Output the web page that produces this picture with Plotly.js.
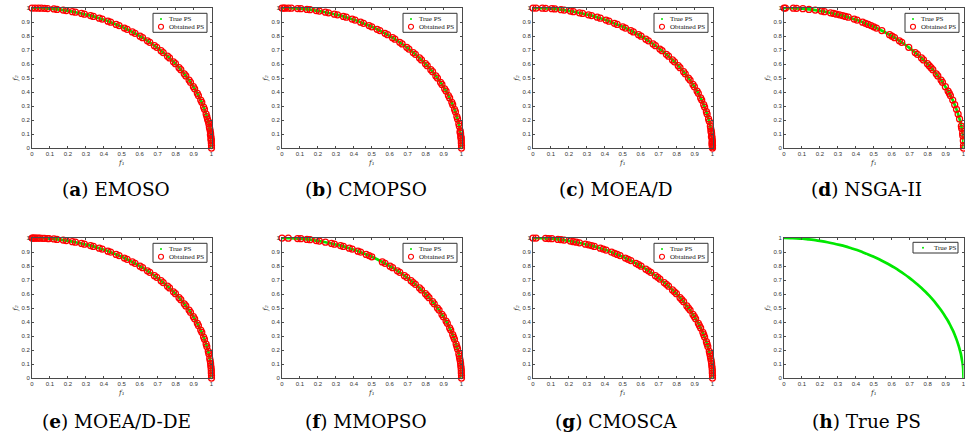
<!DOCTYPE html>
<html><head><meta charset="utf-8">
<script src="https://cdn.plot.ly/plotly-3.0.1.min.js"></script>
<style>html,body{margin:0;padding:0;background:#fff;} #chart{width:965px;height:441px;}</style>
</head><body><div id="chart"></div>
<script>
// ---------- data ----------
const trueF1 = [0.000,0.035,0.070,0.105,0.139,0.174,0.208,0.242,0.276,0.309,0.342,0.375,0.407,0.438,0.469,0.500,0.530,0.559,0.588,0.616,0.643,0.669,0.695,0.719,0.743,0.766,0.788,0.809,0.829,0.848,0.866,0.883,0.899,0.914,0.927,0.940,0.951,0.961,0.970,0.978,0.985,0.990,0.995,0.998,0.999,1.000];
const trueF2 = [1.000,0.999,0.998,0.995,0.990,0.985,0.978,0.970,0.961,0.951,0.940,0.927,0.914,0.899,0.883,0.866,0.848,0.829,0.809,0.788,0.766,0.743,0.719,0.695,0.669,0.643,0.616,0.588,0.559,0.530,0.500,0.469,0.438,0.407,0.375,0.342,0.309,0.276,0.242,0.208,0.174,0.139,0.105,0.070,0.035,0.000];

const emosoF1 = [0.000,0.017,0.035,0.052,0.070,0.087,0.122,0.139,0.174,0.191,0.225,0.242,0.276,0.292,0.326,0.342,0.375,0.391,0.423,0.438,0.469,0.485,0.515,0.530,0.559,0.574,0.602,0.616,0.643,0.656,0.682,0.695,0.719,0.731,0.755,0.766,0.788,0.799,0.819,0.829,0.848,0.857,0.875,0.883,0.899,0.906,0.921,0.927,0.940,0.946,0.956,0.961,0.970,0.974,0.982,0.985,0.990,0.993,0.995,0.996,0.998,0.999,0.999,1.000,1.000,0.988,0.994,0.997,0.978];
const emosoF2 = [1.000,1.000,0.999,0.999,0.998,0.996,0.993,0.990,0.985,0.982,0.974,0.970,0.961,0.956,0.946,0.940,0.927,0.921,0.906,0.899,0.883,0.875,0.857,0.848,0.829,0.819,0.799,0.788,0.766,0.755,0.731,0.719,0.695,0.682,0.656,0.643,0.616,0.602,0.574,0.559,0.530,0.515,0.485,0.469,0.438,0.423,0.391,0.375,0.342,0.326,0.292,0.276,0.242,0.225,0.191,0.174,0.139,0.122,0.105,0.087,0.070,0.052,0.035,0.017,0.000,0.150,0.095,0.060,0.205];

const cmopsoF1 = [0.000,0.017,0.035,0.052,0.087,0.105,0.139,0.156,0.191,0.208,0.242,0.259,0.292,0.309,0.342,0.358,0.391,0.407,0.438,0.454,0.485,0.500,0.530,0.545,0.574,0.588,0.616,0.629,0.656,0.669,0.695,0.707,0.731,0.743,0.766,0.777,0.799,0.809,0.829,0.839,0.857,0.866,0.883,0.891,0.906,0.914,0.927,0.934,0.946,0.951,0.961,0.966,0.974,0.978,0.985,0.988,0.993,0.995,0.996,0.998,0.999,0.999,1.000,1.000,0.010,0.992,0.997];
const cmopsoF2 = [1.000,1.000,0.999,0.999,0.996,0.995,0.990,0.988,0.982,0.978,0.970,0.966,0.956,0.951,0.940,0.934,0.921,0.914,0.899,0.891,0.875,0.866,0.848,0.839,0.819,0.809,0.788,0.777,0.755,0.743,0.719,0.707,0.682,0.669,0.643,0.629,0.602,0.588,0.559,0.545,0.515,0.500,0.469,0.454,0.423,0.407,0.375,0.358,0.326,0.309,0.276,0.259,0.225,0.208,0.174,0.156,0.122,0.105,0.087,0.070,0.052,0.035,0.017,0.000,1.000,0.110,0.075];

const moeadF1 = [0.000,0.017,0.052,0.070,0.105,0.122,0.156,0.174,0.208,0.225,0.259,0.276,0.309,0.326,0.358,0.375,0.407,0.423,0.454,0.469,0.500,0.515,0.545,0.559,0.588,0.602,0.629,0.643,0.669,0.682,0.707,0.719,0.743,0.755,0.777,0.788,0.809,0.819,0.839,0.848,0.866,0.875,0.891,0.899,0.914,0.921,0.934,0.940,0.951,0.956,0.966,0.970,0.978,0.982,0.988,0.990,0.993,0.995,0.996,0.998,0.999,0.999,1.000,1.000,0.997,0.998,0.994,0.992,0.999];
const moeadF2 = [1.000,1.000,0.999,0.998,0.995,0.993,0.988,0.985,0.978,0.974,0.966,0.961,0.951,0.946,0.934,0.927,0.914,0.906,0.891,0.883,0.866,0.857,0.839,0.829,0.809,0.799,0.777,0.766,0.743,0.731,0.707,0.695,0.669,0.656,0.629,0.616,0.588,0.574,0.545,0.530,0.500,0.485,0.454,0.438,0.407,0.391,0.358,0.342,0.309,0.292,0.259,0.242,0.208,0.191,0.156,0.139,0.122,0.105,0.087,0.070,0.052,0.035,0.017,0.000,0.026,0.044,0.080,0.115,0.009];

const nsga2F1 = [0.000,0.008,0.052,0.070,0.105,0.139,0.174,0.208,0.225,0.259,0.276,0.292,0.309,0.326,0.342,0.358,0.391,0.407,0.438,0.454,0.469,0.485,0.500,0.515,0.545,0.588,0.602,0.616,0.643,0.656,0.695,0.731,0.743,0.766,0.777,0.799,0.809,0.819,0.829,0.848,0.857,0.875,0.883,0.899,0.914,0.921,0.927,0.940,0.951,0.961,0.970,0.978,0.988,0.990,0.995,0.996,0.999,1.000,1.000];
const nsga2F2 = [1.000,1.000,0.999,0.998,0.995,0.990,0.985,0.978,0.974,0.966,0.961,0.956,0.951,0.946,0.940,0.934,0.921,0.914,0.899,0.891,0.883,0.875,0.866,0.857,0.839,0.809,0.799,0.788,0.766,0.755,0.719,0.682,0.669,0.643,0.629,0.602,0.588,0.574,0.559,0.530,0.515,0.485,0.469,0.438,0.407,0.391,0.375,0.342,0.309,0.276,0.242,0.208,0.156,0.139,0.105,0.087,0.052,0.017,0.000];

const moeaddeF1 = [0.000,0.017,0.035,0.070,0.087,0.122,0.139,0.174,0.191,0.225,0.242,0.276,0.292,0.326,0.342,0.375,0.391,0.423,0.438,0.469,0.485,0.515,0.530,0.559,0.574,0.602,0.616,0.643,0.656,0.682,0.695,0.719,0.731,0.755,0.766,0.788,0.799,0.819,0.829,0.848,0.857,0.875,0.883,0.899,0.906,0.921,0.927,0.940,0.946,0.956,0.961,0.970,0.974,0.982,0.985,0.990,0.993,0.995,0.996,0.998,0.999,0.999,1.000,1.000,0.005,0.010,0.025,0.045,0.060,0.095];
const moeaddeF2 = [1.000,1.000,0.999,0.998,0.996,0.993,0.990,0.985,0.982,0.974,0.970,0.961,0.956,0.946,0.940,0.927,0.921,0.906,0.899,0.883,0.875,0.857,0.848,0.829,0.819,0.799,0.788,0.766,0.755,0.731,0.719,0.695,0.682,0.656,0.643,0.616,0.602,0.574,0.559,0.530,0.515,0.485,0.469,0.438,0.423,0.391,0.375,0.342,0.326,0.292,0.276,0.242,0.225,0.191,0.174,0.139,0.122,0.105,0.087,0.070,0.052,0.035,0.017,0.000,1.000,1.000,1.000,0.999,0.998,0.996];

const mmopsoF1 = [0.000,0.035,0.087,0.105,0.139,0.156,0.191,0.208,0.242,0.276,0.292,0.326,0.342,0.375,0.391,0.423,0.438,0.469,0.485,0.500,0.559,0.574,0.602,0.616,0.643,0.656,0.682,0.695,0.719,0.731,0.743,0.766,0.777,0.799,0.809,0.819,0.839,0.848,0.866,0.875,0.891,0.899,0.914,0.921,0.934,0.940,0.951,0.956,0.961,0.970,0.974,0.978,0.985,0.988,0.990,0.993,0.995,0.996,0.998,0.999,0.999,1.000,1.000];
const mmopsoF2 = [1.000,0.999,0.996,0.995,0.990,0.988,0.982,0.978,0.970,0.961,0.956,0.946,0.940,0.927,0.921,0.906,0.899,0.883,0.875,0.866,0.829,0.819,0.799,0.788,0.766,0.755,0.731,0.719,0.695,0.682,0.669,0.643,0.629,0.602,0.588,0.574,0.545,0.530,0.500,0.485,0.454,0.438,0.407,0.391,0.358,0.342,0.309,0.292,0.276,0.242,0.225,0.208,0.174,0.156,0.139,0.122,0.105,0.087,0.070,0.052,0.035,0.017,0.000];

const cmoscaF1 = [0.000,0.017,0.070,0.087,0.105,0.139,0.156,0.174,0.208,0.225,0.242,0.259,0.292,0.309,0.326,0.342,0.375,0.391,0.407,0.438,0.454,0.469,0.485,0.515,0.530,0.545,0.574,0.588,0.602,0.629,0.643,0.656,0.682,0.695,0.707,0.731,0.743,0.755,0.777,0.788,0.799,0.819,0.829,0.839,0.857,0.866,0.875,0.891,0.899,0.906,0.921,0.927,0.934,0.946,0.951,0.956,0.966,0.970,0.974,0.982,0.985,0.988,0.990,0.993,0.995,0.996,0.998,0.999,0.999,1.000,1.000];
const cmoscaF2 = [1.000,1.000,0.998,0.996,0.995,0.990,0.988,0.985,0.978,0.974,0.970,0.966,0.956,0.951,0.946,0.940,0.927,0.921,0.914,0.899,0.891,0.883,0.875,0.857,0.848,0.839,0.819,0.809,0.799,0.777,0.766,0.755,0.731,0.719,0.707,0.682,0.669,0.656,0.629,0.616,0.602,0.574,0.559,0.545,0.515,0.500,0.485,0.454,0.438,0.423,0.391,0.375,0.358,0.326,0.309,0.292,0.259,0.242,0.225,0.191,0.174,0.156,0.139,0.122,0.105,0.087,0.070,0.052,0.035,0.017,0.000];

const panelLetters = ['a','b','c','d','e','f','g','h'];
const panelNames = ['EMOSO','CMOPSO','MOEA/D','NSGA-II','MOEA/D-DE','MMOPSO','CMOSCA','True PS'];
const obtainedF1 = [emosoF1, cmopsoF1, moeadF1, nsga2F1, moeaddeF1, mmopsoF1, cmoscaF1, null];
const obtainedF2 = [emosoF2, cmopsoF2, moeadF2, nsga2F2, moeaddeF2, mmopsoF2, cmoscaF2, null];
const tickVals = [0,0.1,0.2,0.3,0.4,0.5,0.6,0.7,0.8,0.9,1];
const tickText = ['0','0.1','0.2','0.3','0.4','0.5','0.6','0.7','0.8','0.9','1'];
const xTitle = 'f₁', yTitle = 'f₂';
const legendTrue = 'True PS';
const legendObtained = 'Obtained PS';

// ---------- geometry ----------
const W = 965, H = 441;
const colL = [32, 282, 533, 784], plotW = 179.5;
const rowT = [8, 238], plotH = 140;
const capX = [116, 366, 616, 866], capY = [190, 421];
const px = x => x / W, py = y => 1 - y / H;
const GREEN = 'rgb(0,232,0)', RED = 'rgb(255,0,0)', AX = '#4a4a4a';

const traces = [], shapes = [], annotations = [];
const layout = {
  width: W, height: H, margin: {l:0, r:0, t:0, b:0},
  paper_bgcolor: '#fff', plot_bgcolor: '#fff', showlegend: false
};

function axisBase() {
  return {
    range: [0, 1], tickmode: 'array', tickvals: tickVals, ticktext: tickText,
    ticks: 'inside', ticklen: 2, tickwidth: 1, tickcolor: AX,
    showline: true, linecolor: AX, linewidth: 1, mirror: 'allticks',
    showgrid: false, zeroline: false, fixedrange: true, automargin: false,
    ticklabeloverflow: 'allow',
    tickfont: {family: 'Liberation Sans, Arial, sans-serif', size: 6, color: '#333'}
  };
}
const titleFont = {family: 'DejaVu Serif, serif', size: 7, color: '#333', style: 'italic'};

for (let i = 0; i < 8; i++) {
  const col = i % 4, row = Math.floor(i / 4);
  const L = colL[col], T = rowT[row];
  const n = i === 0 ? '' : String(i + 1);
  const xa = axisBase(), ya = axisBase();
  xa.domain = [px(L), px(L + plotW)];
  ya.domain = [py(T + plotH), py(T)];
  xa.anchor = 'y' + n; ya.anchor = 'x' + n;
  xa.title = {text: xTitle, font: titleFont, standoff: 3};
  ya.title = {text: yTitle, font: titleFont, standoff: 2};
  layout['xaxis' + n] = xa;
  layout['yaxis' + n] = ya;

  traces.push({
    x: trueF1, y: trueF2, xaxis: 'x' + n, yaxis: 'y' + n, type: 'scatter', mode: 'lines',
    line: {color: GREEN, width: 2.7, shape: 'spline'}, cliponaxis: false, hoverinfo: 'skip', name: legendTrue
  });
  if (obtainedF1[i]) {
    traces.push({
      x: obtainedF1[i], y: obtainedF2[i], xaxis: 'x' + n, yaxis: 'y' + n, type: 'scatter', mode: 'markers',
      marker: {symbol: 'circle-open', size: 6, color: RED, line: {color: RED, width: 1.25}},
      cliponaxis: false, hoverinfo: 'skip', name: legendObtained
    });
  }

  // legend box (drawn as layout decoration)
  const txtFont = {family: 'Liberation Serif, Times New Roman, serif', size: 7, color: '#111'};
  if (obtainedF1[i]) {
    shapes.push({type: 'rect', xref: 'paper', yref: 'paper', x0: px(L + 121), x1: px(L + 175), y0: py(T + 24.3), y1: py(T + 5.3),
      line: {color: '#333', width: 1}, fillcolor: '#fff', layer: 'above'});
    shapes.push({type: 'circle', xref: 'paper', yref: 'paper', x0: px(L + 128), x1: px(L + 130), y0: py(T + 12), y1: py(T + 10),
      line: {width: 0}, fillcolor: GREEN, layer: 'above'});
    shapes.push({type: 'circle', xref: 'paper', yref: 'paper', x0: px(L + 126.5), x1: px(L + 131.5), y0: py(T + 21.2), y1: py(T + 16.2),
      line: {color: RED, width: 1.1}, fillcolor: 'rgba(0,0,0,0)', layer: 'above'});
    annotations.push({text: legendTrue, xref: 'paper', yref: 'paper', x: px(L + 135), y: py(T + 11), xanchor: 'left', yanchor: 'middle', showarrow: false, font: txtFont});
    annotations.push({text: legendObtained, xref: 'paper', yref: 'paper', x: px(L + 135), y: py(T + 18.7), xanchor: 'left', yanchor: 'middle', showarrow: false, font: txtFont});
  } else {
    shapes.push({type: 'rect', xref: 'paper', yref: 'paper', x0: px(L + 129), x1: px(L + 174), y0: py(T + 15), y1: py(T + 4.3),
      line: {color: '#333', width: 1}, fillcolor: '#fff', layer: 'above'});
    shapes.push({type: 'circle', xref: 'paper', yref: 'paper', x0: px(L + 138), x1: px(L + 140), y0: py(T + 10.7), y1: py(T + 8.7),
      line: {width: 0}, fillcolor: GREEN, layer: 'above'});
    annotations.push({text: legendTrue, xref: 'paper', yref: 'paper', x: px(L + 148), y: py(T + 9.7), xanchor: 'left', yanchor: 'middle', showarrow: false, font: txtFont});
  }

  annotations.push({
    text: '(<b>' + panelLetters[i] + '</b>) ' + panelNames[i], xref: 'paper', yref: 'paper',
    x: px(capX[col]), y: py(capY[row]), xanchor: 'center', yanchor: 'middle', showarrow: false,
    font: {family: 'DejaVu Serif, serif', size: 18.5, color: '#000'}
  });
}
layout.shapes = shapes;
layout.annotations = annotations;

Plotly.newPlot('chart', traces, layout, {staticPlot: true, displayModeBar: false});
</script>
</body></html>
